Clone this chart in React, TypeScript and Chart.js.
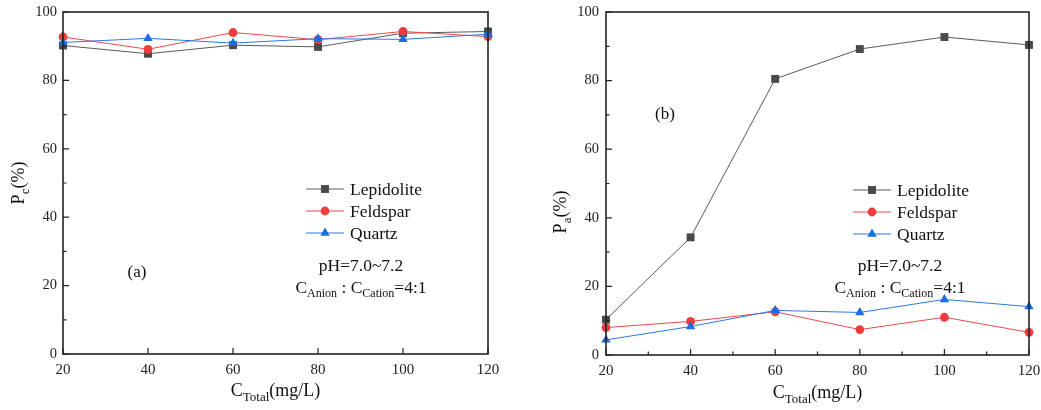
import React, { useEffect, useRef } from 'react';
import { Chart, registerables } from 'chart.js';
Chart.register(...registerables);

// ---------- data ----------
const concentrations = [20, 40, 60, 80, 100, 120];
const seriesNames = ['Lepidolite', 'Feldspar', 'Quartz'];
const pcLepidolite = [90.2, 87.8, 90.3, 89.8, 93.8, 94.3];
const pcFeldspar = [92.7, 89.1, 94.0, 91.9, 94.3, 92.8];
const pcQuartz = [91.1, 92.3, 90.9, 92.2, 92.0, 93.5];
const paLepidolite = [10.3, 34.3, 80.5, 89.2, 92.7, 90.4];
const paFeldspar = [8.0, 9.8, 12.6, 7.4, 11.0, 6.6];
const paQuartz = [4.4, 8.3, 13.0, 12.4, 16.2, 14.1];
const xMin = 20, xMax = 120, xStep = 20;
const yMin = 0, yMax = 100, yStep = 20;
const minorStep = 10;
const yTitleSubs = ['c', 'a'];
const panelLabels = ['(a)', '(b)'];
const noteLine1 = 'pH=7.0~7.2';

// ---------- styles ----------
const FONT = "'Liberation Serif', 'Times New Roman', serif";
const colors = ['#4a4a4a', '#ef3b3b', '#1a6ee0'];
const lineColors = ['#5a5a5a', '#f04848', '#2a78e4'];
const pointStyles = ['rect', 'circle', 'triangle'];
const pointRadii = [5.6, 4.4, 5.4];
const TEXT_SIZE = 17.5;

type Part = [string, boolean];

function drawRich(ctx: CanvasRenderingContext2D, parts: Part[], x: number, y: number, size: number) {
  const subSize = Math.round(size * 0.7);
  let total = 0;
  const widths = parts.map(([t, sub]) => {
    ctx.font = `${sub ? subSize : size}px ${FONT}`;
    const w = ctx.measureText(t).width;
    total += w;
    return w;
  });
  let cx = x - total / 2;
  ctx.textBaseline = 'alphabetic';
  ctx.textAlign = 'left';
  parts.forEach(([t, sub], i) => {
    ctx.font = `${sub ? subSize : size}px ${FONT}`;
    ctx.fillText(t, cx, y + (sub ? size * 0.25 : 0));
    cx += widths[i];
  });
}

function drawMarker(ctx: CanvasRenderingContext2D, style: string, x: number, y: number, r: number, color: string) {
  ctx.fillStyle = color;
  ctx.beginPath();
  if (style === 'rect') {
    const s = Math.SQRT1_2 * r;
    ctx.rect(x - s, y - s, 2 * s, 2 * s);
  } else if (style === 'circle') {
    ctx.arc(x, y, r, 0, Math.PI * 2);
  } else {
    const w = r * Math.sqrt(3) / 2;
    ctx.moveTo(x, y - r);
    ctx.lineTo(x + w, y + r / 2);
    ctx.lineTo(x - w, y + r / 2);
    ctx.closePath();
  }
  ctx.fill();
}

interface PanelCfg {
  idx: number;
  yTitleX: number;
  yTitleY: number;
  xTitleY: number;
  labelX: number;
  labelY: number;
  legendX1: number;
  legendX2: number;
  legendTextX: number;
  legendY: number[];
  noteX: number;
  noteY1: number;
  noteY2: number;
  xMinor: boolean;
}

function overlay(cfg: PanelCfg) {
  return {
    id: 'overlay' + cfg.idx,
    afterDraw(chart: any) {
      const ctx: CanvasRenderingContext2D = chart.ctx;
      const a = chart.chartArea;
      const xs = chart.scales.x;
      const ys = chart.scales.y;
      ctx.save();
      // frame
      ctx.strokeStyle = '#222';
      ctx.lineWidth = 1.6;
      ctx.strokeRect(a.left, a.top, a.right - a.left, a.bottom - a.top);
      ctx.lineWidth = 1.2;
      ctx.beginPath();
      for (let v = yMin; v <= yMax; v += minorStep) {
        const y = ys.getPixelForValue(v);
        const len = v % yStep === 0 ? 6 : 3.5;
        ctx.moveTo(a.left, y);
        ctx.lineTo(a.left + len, y);
      }
      for (let v = xMin; v <= xMax; v += minorStep) {
        const major = (v - xMin) % xStep === 0;
        if (!major && !cfg.xMinor) continue;
        const x = xs.getPixelForValue(v);
        const len = major ? 6 : 3.5;
        ctx.moveTo(x, a.bottom);
        ctx.lineTo(x, a.bottom - len);
      }
      ctx.stroke();

      ctx.fillStyle = '#111';
      // y title
      ctx.save();
      ctx.translate(cfg.yTitleX, cfg.yTitleY);
      ctx.rotate(-Math.PI / 2);
      drawRich(ctx, [['P', false], [yTitleSubs[cfg.idx], true], ['(%)', false]], 0, 6, 18);
      ctx.restore();
      // x title
      ctx.fillStyle = '#111';
      drawRich(ctx, [['C', false], ['Total', true], ['(mg/L)', false]], (a.left + a.right) / 2, cfg.xTitleY, 18);
      // panel label
      drawRich(ctx, [[panelLabels[cfg.idx], false]], cfg.labelX, cfg.labelY, 17);
      // notes
      drawRich(ctx, [[noteLine1, false]], cfg.noteX, cfg.noteY1, TEXT_SIZE);
      drawRich(ctx, [['C', false], ['Anion', true], [' : C', false], ['Cation', true], ['=4:1', false]], cfg.noteX, cfg.noteY2, TEXT_SIZE);
      // legend
      seriesNames.forEach((name, i) => {
        const y = cfg.legendY[i];
        ctx.strokeStyle = lineColors[i];
        ctx.lineWidth = 1;
        ctx.beginPath();
        ctx.moveTo(cfg.legendX1, y);
        ctx.lineTo(cfg.legendX2, y);
        ctx.stroke();
        drawMarker(ctx, pointStyles[i], (cfg.legendX1 + cfg.legendX2) / 2, y, pointRadii[i], colors[i]);
        ctx.fillStyle = '#111';
        ctx.font = `${TEXT_SIZE}px ${FONT}`;
        ctx.textAlign = 'left';
        ctx.textBaseline = 'middle';
        ctx.fillText(name, cfg.legendTextX, y + 1);
      });
      ctx.restore();
    },
  };
}

function buildConfig(values: number[][], cfg: PanelCfg, pad: any, yWidth: number, xHeight: number, yPad: number): any {
  return {
    type: 'line',
    data: {
      datasets: values.map((arr, i) => ({
        label: seriesNames[i],
        data: concentrations.map((c, j) => ({ x: c, y: arr[j] })),
        borderColor: lineColors[i],
        borderWidth: 1,
        backgroundColor: colors[i],
        pointBackgroundColor: colors[i],
        pointBorderColor: colors[i],
        pointBorderWidth: 0,
        pointStyle: pointStyles[i],
        pointRadius: pointRadii[i],
        tension: 0,
        fill: false,
        clip: false,
        order: 3 - i,
      })),
    },
    options: {
      animation: false,
      responsive: false,
      events: [],
      layout: { padding: pad },
      plugins: { legend: { display: false }, tooltip: { enabled: false }, title: { display: false } },
      scales: {
        x: {
          type: 'linear',
          min: xMin,
          max: xMax,
          grid: { display: false, drawTicks: false },
          border: { display: false },
          ticks: { stepSize: xStep, padding: 7, color: '#222', font: { family: FONT, size: 15 }, maxRotation: 0, autoSkip: false },
          afterFit: (s: any) => { s.height = xHeight; s.paddingLeft = 0; s.paddingRight = 0; },
        },
        y: {
          type: 'linear',
          min: yMin,
          max: yMax,
          grid: { display: false, drawTicks: false },
          border: { display: false },
          ticks: { stepSize: yStep, padding: yPad, color: '#222', font: { family: FONT, size: 14.5 } },
          afterFit: (s: any) => { s.width = yWidth; s.paddingTop = 0; s.paddingBottom = 0; },
        },
      },
    },
    plugins: [overlay(cfg)],
  };
}

const leftCfg: PanelCfg = {
  idx: 0, yTitleX: 18, yTitleY: 183, xTitleY: 396,
  labelX: 137, labelY: 277, legendX1: 306, legendX2: 344, legendTextX: 350,
  legendY: [189, 211, 233], noteX: 361, noteY1: 271, noteY2: 293, xMinor: false,
};
const rightCfg: PanelCfg = {
  idx: 1, yTitleX: 40, yTitleY: 212, xTitleY: 398,
  labelX: 145, labelY: 119, legendX1: 333, legendX2: 371, legendTextX: 377,
  legendY: [190, 212, 234], noteX: 380, noteY1: 271, noteY2: 293, xMinor: true,
};

export default function App() {
  const leftRef = useRef<HTMLCanvasElement>(null);
  const rightRef = useRef<HTMLCanvasElement>(null);
  useEffect(() => {
    const c1 = new Chart(leftRef.current as HTMLCanvasElement,
      buildConfig([pcLepidolite, pcFeldspar, pcQuartz], leftCfg, { left: 0, right: 32, top: 12, bottom: 0 }, 63, 56, 6));
    const c2 = new Chart(rightRef.current as HTMLCanvasElement,
      buildConfig([paLepidolite, paFeldspar, paQuartz], rightCfg, { left: 0, right: 12, top: 12, bottom: 0 }, 86, 55, 7));
    return () => { c1.destroy(); c2.destroy(); };
  }, []);
  return (
    <div style={{ position: 'absolute', left: 0, top: 0, width: 1041, height: 410, background: '#fff' }}>
      <canvas ref={leftRef} width={520} height={410} style={{ position: 'absolute', left: 0, top: 0 }} />
      <canvas ref={rightRef} width={521} height={410} style={{ position: 'absolute', left: 520, top: 0 }} />
    </div>
  );
}
